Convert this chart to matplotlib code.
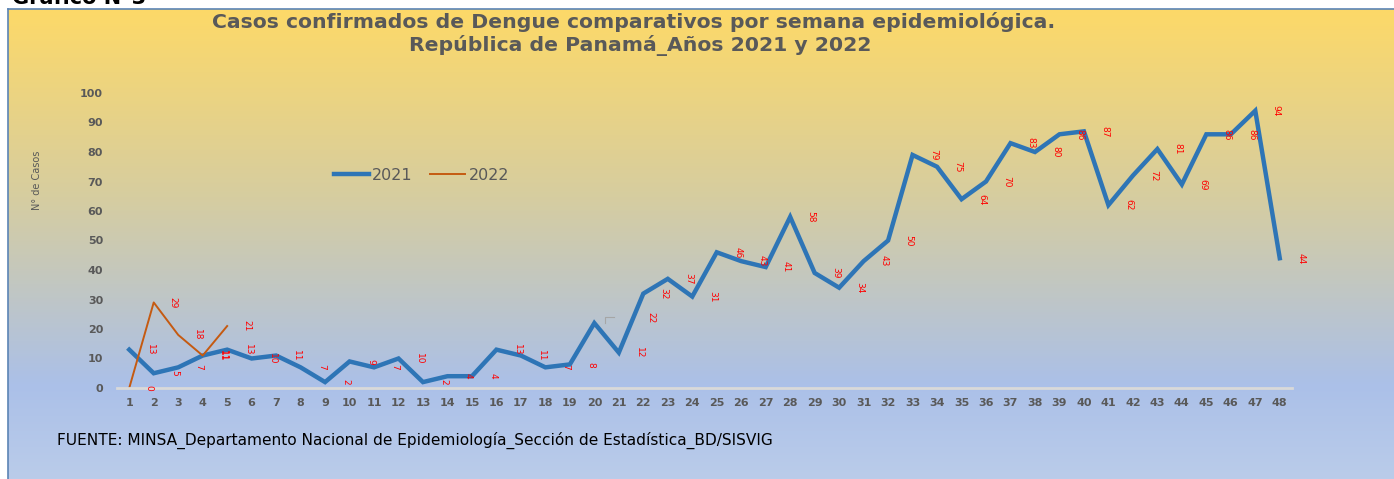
import numpy as np
import matplotlib
matplotlib.use("Agg")
import matplotlib.pyplot as plt
from matplotlib.colors import LinearSegmentedColormap

# Data: Dengue confirmed cases by epidemiological week
weeks_2021 = list(range(1, 49))
cases_2021 = [13, 5, 7, 11, 13, 10, 11, 7, 2, 9, 7, 10, 2, 4, 4, 13, 11, 7, 8, 22,
              12, 32, 37, 31, 46, 43, 41, 58, 39, 34, 43, 50, 79, 75, 64, 70, 83, 80,
              86, 87, 62, 72, 81, 69, 86, 86, 94, 44]
weeks_2022 = [1, 2, 3, 4, 5]
cases_2022 = [0, 29, 18, 11, 21]
yticks = list(range(0, 101, 10))

W, H = 1394, 479
fig = plt.figure(figsize=(W / 100, H / 100), dpi=100)
fig.patch.set_facecolor('white')

# gradient background for chart box
bg = fig.add_axes([8 / W, 0, 1 - 8 / W, 1 - 9 / H])
cmap = LinearSegmentedColormap.from_list('bg', [(0.0, '#FDD968'), (0.40, '#D6CDA0'),
                                                (0.80, '#ABC0E8'), (1.0, '#BACCEA')])
grad = np.linspace(0, 1, 256).reshape(-1, 1)
bg.imshow(grad, aspect='auto', cmap=cmap, extent=[0, 1, 0, 1], origin='upper')
bg.set_xlim(0, 1)
bg.set_ylim(0, 1)
bg.set_xticks([])
bg.set_yticks([])
for s in ['right', 'bottom']:
    bg.spines[s].set_visible(False)
for s in ['left', 'top']:
    bg.spines[s].set_color('#5B84B5')
    bg.spines[s].set_linewidth(1.2)

# chart number sits above the box and is cut by the top edge, as in the source
fig.text(12 / W, 1 - 4 / H, 'Gráfico N°3', fontsize=15, fontweight='bold',
         color='black', va='baseline', ha='left')

# main plot
ax = fig.add_axes([117 / W, 1 - 388 / H, 1175 / W, 295 / H])
ax.patch.set_alpha(0)
ax.plot(weeks_2021, cases_2021, color='#2E75B6', lw=3.2, label='2021',
        solid_joinstyle='miter')
ax.plot(weeks_2022, cases_2022, color='#C55A11', lw=1.4, label='2022')
ax.set_xlim(0.5, 48.5)
ax.set_ylim(0, 100)
ax.set_xticks(weeks_2021)
ax.set_yticks(yticks)
for s in ['left', 'right', 'top']:
    ax.spines[s].set_visible(False)
ax.spines['bottom'].set_color('#D9D9D9')
ax.spines['bottom'].set_linewidth(2)
ax.tick_params(length=0, labelsize=8, labelcolor='#595959', pad=7)
ax.tick_params(axis='y', pad=10)
for lab in ax.get_xticklabels() + ax.get_yticklabels():
    lab.set_fontweight('bold')

# data labels (shown beside the points, rotated)
for x, y in zip(weeks_2021, cases_2021):
    if x == 20:
        continue
    ax.annotate(str(y), (x, y), xytext=(15, 0), textcoords='offset points',
                rotation=-90, color='#FF0000', fontsize=6.5, ha='center', va='center')
ax.annotate('22', (20, 22), xytext=(41, 4), textcoords='offset points',
            rotation=-90, color='#FF0000', fontsize=6.5, ha='center', va='center')
ax.plot([20.45, 20.45, 20.8], [22, 24, 24], color='#A6A6A6', lw=0.8)
for x, y in zip(weeks_2022, cases_2022):
    ax.annotate(str(y), (x, y), xytext=(14, 0), textcoords='offset points',
                rotation=-90, color='#FF0000', fontsize=6.5, ha='center', va='center')

leg = ax.legend(loc='center', bbox_to_anchor=(0.259, 0.722), ncol=2, frameon=False,
                handlelength=2.2, columnspacing=1.1, handletextpad=0.2, fontsize=11.5)
for t in leg.get_texts():
    t.set_color('#595959')

fig.text(634 / W, 1 - 22 / H, 'Casos confirmados de Dengue comparativos por semana epidemiológica.',
         fontsize=14.7, fontweight='bold', color='#595959', ha='center', va='center')
fig.text(640 / W, 1 - 46 / H, 'República de Panamá_Años 2021 y 2022',
         fontsize=14.7, fontweight='bold', color='#595959', ha='center', va='center')

fig.text(37 / W, 1 - 180 / H, 'N° de Casos', rotation=90, fontsize=7,
         family=['Liberation Sans Narrow', 'DejaVu Sans'], color='#595959',
         ha='center', va='center')

fig.text(57 / W, 1 - 440 / H,
         'FUENTE: MINSA_Departamento Nacional de Epidemiología_Sección de Estadística_BD/SISVIG',
         fontsize=11.1, color='black', ha='left', va='center')

fig.savefig('out.png', dpi=100)
